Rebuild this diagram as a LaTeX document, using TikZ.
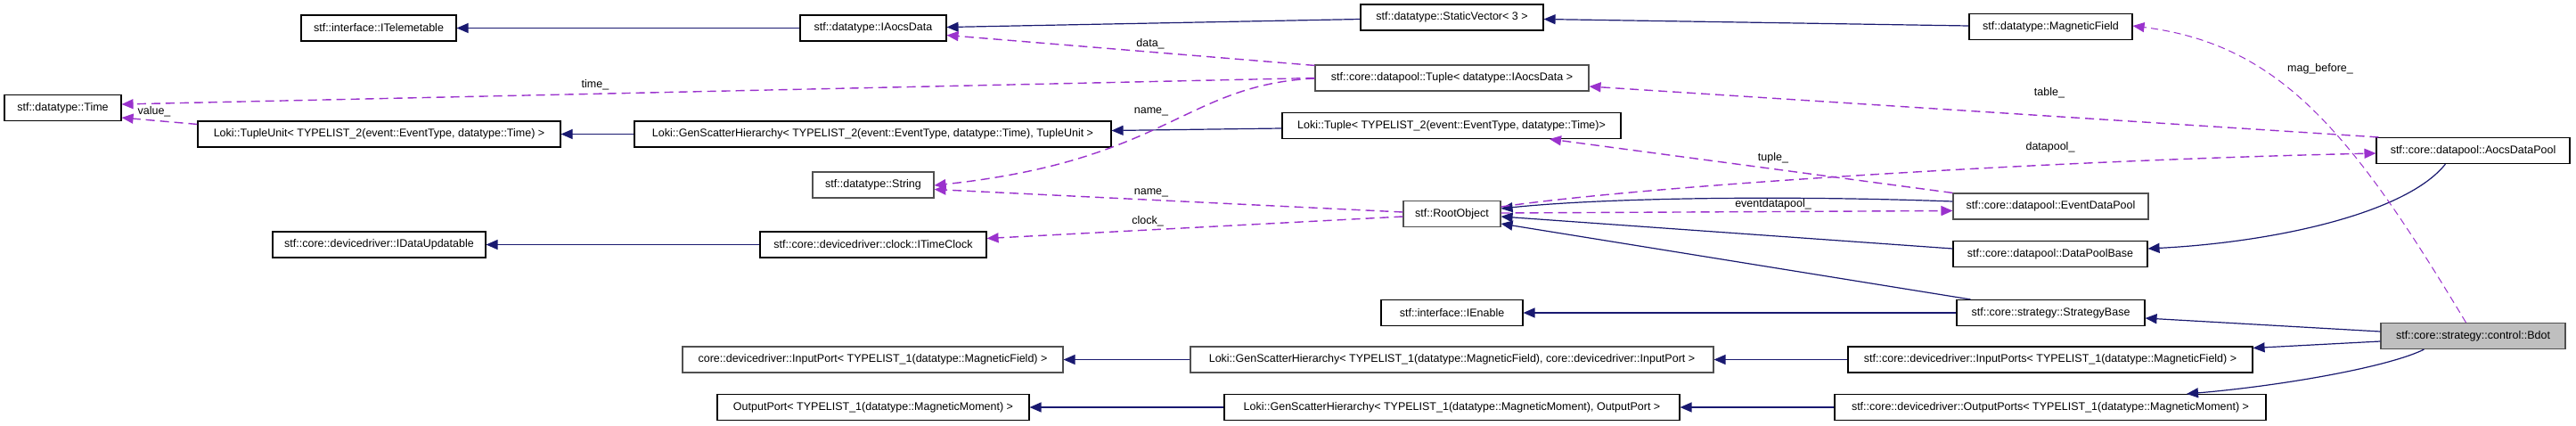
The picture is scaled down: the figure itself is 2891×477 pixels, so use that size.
\documentclass[tikz,border=0pt]{standalone}
\usepackage{fontspec}
\setmainfont{Liberation Sans}
\usetikzlibrary{arrows.meta,calc}
\definecolor{inh}{HTML}{191970}
\definecolor{use}{HTML}{9A32CD}
\definecolor{gb}{HTML}{505050}
\definecolor{focus}{HTML}{BFBFBF}
\tikzset{
 box/.style={draw=black, line width=1.1pt, fill=white, inner sep=0pt, font=\fontsize{12.5}{14}\selectfont, minimum height=29pt},
 gbox/.style={box, draw=gb},
 inhline/.style={draw=inh, line width=1.2pt, -{Triangle[length=13pt,width=11pt]}},
 useline/.style={draw=use, line width=1.4pt, dash pattern=on 10pt off 6pt, -{Triangle[length=13pt,width=11pt]}},
 lbl/.style={font=\fontsize{12.5}{14}\selectfont, inner sep=0pt},
}
\begin{document}
\begin{tikzpicture}[x=1pt,y=-1pt]
\useasboundingbox[fill=white] (0,0) rectangle (2891,477);
% nodes
\node[box, minimum width=174pt] (itel) at (425,31.5) {stf::interface::ITelemetable};
\node[box, minimum width=164pt] (iaocs) at (980,31.5) {stf::datatype::IAocsData};
\node[box, minimum width=205pt] (svec) at (1629.5,19.5) {stf::datatype::StaticVector< 3 >};
\node[box, minimum width=183pt] (magf) at (2301.5,30) {stf::datatype::MagneticField};
\node[gbox, minimum width=307pt] (tuplea) at (1629.5,87.5) {stf::core::datapool::Tuple< datatype::IAocsData >};
\node[box, minimum width=131pt] (time) at (70.5,121) {stf::datatype::Time};
\node[box, minimum width=407pt] (tunit) at (425.5,150.5) {Loki::TupleUnit< TYPELIST\_2(event::EventType, datatype::Time) >};
\node[box, minimum width=535pt] (gsht) at (979.5,150.5) {Loki::GenScatterHierarchy< TYPELIST\_2(event::EventType, datatype::Time), TupleUnit >};
\node[box, minimum width=380pt] (lokit) at (1629,141) {Loki::Tuple< TYPELIST\_2(event::EventType, datatype::Time)>};
\node[box, minimum width=217pt] (adp) at (2775.5,169) {stf::core::datapool::AocsDataPool};
\node[gbox, minimum width=136pt] (str) at (980,207.5) {stf::datatype::String};
\node[gbox, minimum width=109pt] (root) at (1629.5,240) {stf::RootObject};
\node[gbox, minimum width=219pt] (edp) at (2301.5,231.5) {stf::core::datapool::EventDataPool};
\node[box, minimum width=239pt] (idu) at (425.5,274.5) {stf::core::devicedriver::IDataUpdatable};
\node[box, minimum width=254pt] (itc) at (980,274.5) {stf::core::devicedriver::clock::ITimeClock};
\node[box, minimum width=218pt] (dpb) at (2301,285) {stf::core::datapool::DataPoolBase};
\node[box, minimum width=159pt] (ien) at (1629.5,351) {stf::interface::IEnable};
\node[box, minimum width=211pt] (sb) at (2301.5,351) {stf::core::strategy::StrategyBase};
\node[gbox, fill=focus, minimum width=207pt] (bdot) at (2775.5,377) {stf::core::strategy::control::Bdot};
\node[gbox, minimum width=427pt] (inp) at (979.5,403.5) {core::devicedriver::InputPort< TYPELIST\_1(datatype::MagneticField) >};
\node[gbox, minimum width=587pt] (gshi) at (1629.5,403.5) {Loki::GenScatterHierarchy< TYPELIST\_1(datatype::MagneticField), core::devicedriver::InputPort >};
\node[box, minimum width=454pt] (inps) at (2301,403.5) {stf::core::devicedriver::InputPorts< TYPELIST\_1(datatype::MagneticField) >};
\node[box, minimum width=350pt] (outp) at (980,457) {OutputPort< TYPELIST\_1(datatype::MagneticMoment) >};
\node[box, minimum width=511pt] (gsho) at (1629.5,457) {Loki::GenScatterHierarchy< TYPELIST\_1(datatype::MagneticMoment), OutputPort >};
\node[box, minimum width=484pt] (outps) at (2301,457) {stf::core::devicedriver::OutputPorts< TYPELIST\_1(datatype::MagneticMoment) >};
% inheritance
\draw[inhline] (iaocs.west) -- (itel.east);
\draw[inhline] ($(svec.west)+(0,2)$) -- ($(iaocs.east)+(0,-1)$);
\draw[inhline] ($(magf.west)+(0,-1)$) -- ($(svec.east)+(0,2)$);
\draw[inhline] (gsht.west) -- (tunit.east);
\draw[inhline] ($(lokit.west)+(0,3)$) -- ($(gsht.east)+(0,-4)$);
\draw[inhline] ($(edp.west)+(0,-5.5)$) .. controls (2000,219) and (1800,222) .. ($(root.east)+(0,-6)$);
\draw[inhline] ($(dpb.west)+(0,-6)$) -- ($(root.east)+(0,3)$);
\draw[inhline] ($(sb.north west)+(16,0)$) -- ($(root.east)+(0,11)$);
\draw[inhline] (itc.west) -- (idu.east);
\draw[inhline] (sb.west) -- (ien.east);
\draw[inhline] ($(adp.south west)+(78,0)$) .. controls (2700,240) and (2550,272) .. ($(dpb.east)+(0,-6)$);
\draw[inhline] ($(bdot.west)+(0,-5)$) -- ($(sb.east)+(0,6)$);
\draw[inhline] ($(bdot.west)+(0,6)$) -- ($(inps.east)+(0,-13)$);
\draw[inhline] ($(bdot.south west)+(49,0)$) .. controls (2680,412) and (2560,433) .. ($(outps.north)+(153,0)$);
\draw[inhline] (gshi.west) -- (inp.east);
\draw[inhline] (inps.west) -- (gshi.east);
\draw[inhline] (gsho.west) -- (outp.east);
\draw[inhline] (outps.west) -- (gsho.east);
% usage
\draw[useline] ($(tuplea.north west)+(0,1)$) -- ($(iaocs.east)+(0,8)$);
\draw[useline] (tuplea.west) -- ($(time.east)+(0,-4)$);
\draw[useline] ($(tunit.north west)+(0,4)$) -- ($(time.east)+(0,11)$);
\draw[useline] ($(tuplea.west)+(0,0.5)$) .. controls (1330,95) and (1310,180) .. ($(str.east)+(0,0.5)$);
\draw[useline] ($(root.west)+(0,-2)$) -- ($(str.east)+(0,5)$);
\draw[useline] ($(root.west)+(0,3)$) -- ($(itc.east)+(0,-7)$);
\draw[useline] (edp.north west) -- ($(lokit.south)+(110,0)$);
\draw[useline] ($(adp.north west)+(3,0)$) -- ($(tuplea.east)+(0,9.5)$);
\draw[useline] ($(root.east)+(0,-8)$) .. controls (1850,208) and (2300,180) .. ($(adp.west)+(0,3)$);
\draw[useline] ($(root.east)+(0,-1)$) -- ($(edp.west)+(0,5)$);
\draw[useline, line width=1pt, dash pattern=on 8pt off 5pt] ($(bdot.north)+(-8,0)$) .. controls (2640,150) and (2560,50) .. ($(magf.east)+(0,-1)$);
% labels
\node[lbl] (ldata) at (1291,49) {data\_};
\node[lbl] (ltime) at (668,95) {time\_};
\node[lbl] (lvalue) at (173,125) {value\_};
\node[lbl] (lname1) at (1292,125) {name\_};
\node[lbl] (lname2) at (1292,216) {name\_};
\node[lbl] (lclock) at (1288,248) {clock\_};
\node[lbl] (ltuple) at (1990,177) {tuple\_};
\node[lbl] (ltable) at (2300,104) {table\_};
\node[lbl] (ldatapool) at (2301,165) {datapool\_};
\node[lbl] (levent) at (1990,229) {eventdatapool\_};
\node[lbl] (lmag) at (2604,77) {mag\_before\_};
\end{tikzpicture}
\end{document}
